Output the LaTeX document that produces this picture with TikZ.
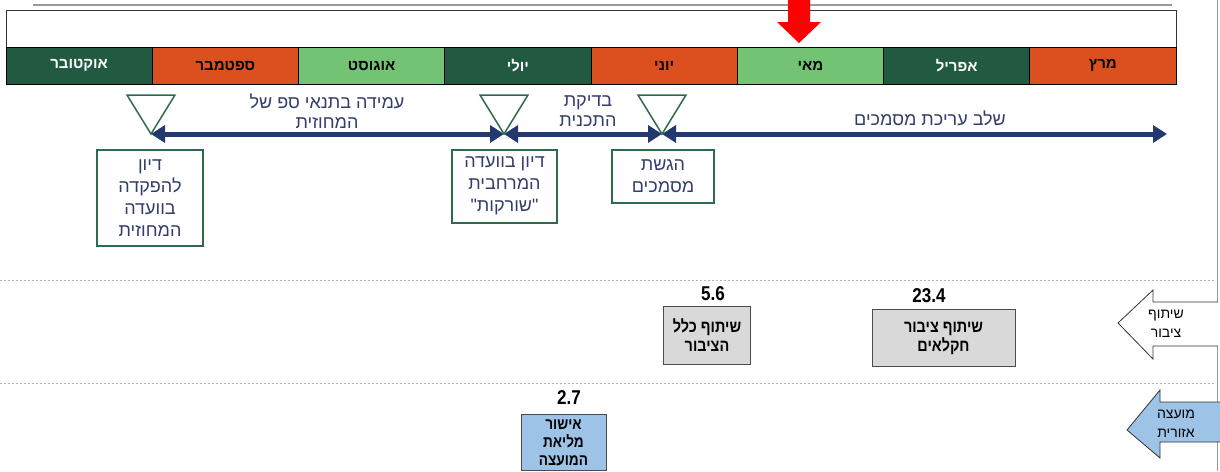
\documentclass[tikz,border=0pt]{standalone}
\usepackage{fontspec}
\usetikzlibrary{arrows.meta}
\newfontfamily\hebfont[Script=Hebrew]{Liberation Sans}
\newfontfamily\narrowfont[Script=Hebrew,FakeStretch=0.85]{Liberation Sans}
\TeXXeTstate=1
\newcommand{\heb}[1]{\beginR #1\endR}
\definecolor{darkgrn}{HTML}{225A41}
\definecolor{orng}{HTML}{DC4F1E}
\definecolor{lightgrn}{HTML}{72C374}
\definecolor{navy}{HTML}{22386F}
\definecolor{boxgrn}{HTML}{2F6B4A}
\definecolor{txtblue}{HTML}{333C6B}
\definecolor{gry}{HTML}{D9D9D9}
\definecolor{lblue}{HTML}{9DC3E6}
\tikzset{
  month/.style={draw=black, line width=0.8pt, minimum width=146.25pt, minimum height=37pt,
    inner sep=0pt, font=\hebfont\bfseries\fontsize{15}{17}\selectfont},
  lbl/.style={align=center, text=txtblue, font=\hebfont\fontsize{18}{20}\selectfont},
  evbox/.style={draw=boxgrn, line width=1.5pt, align=center, anchor=north, text=txtblue,
    inner sep=0pt, font=\hebfont\fontsize{18}{22}\selectfont},
  pbox/.style={draw=black!70, line width=1pt, align=center, anchor=north, inner sep=0pt,
    font=\narrowfont\bfseries\fontsize{17}{19}\selectfont},
  num/.style={font=\narrowfont\bfseries\fontsize{20}{20}\selectfont},
  span/.style={navy, line width=5pt, {Triangle[length=14pt,width=17pt]}-{Triangle[length=14pt,width=17pt]}},
  tri/.style={draw=boxgrn, line width=1.5pt, fill=white},
  sidetxt/.style={align=center, font=\hebfont\fontsize{14}{19}\selectfont}
}
\begin{document}
\begin{tikzpicture}[x=1pt,y=-1pt]
\useasboundingbox (0,0) rectangle (1220,471);
% frame and months
\draw[black!40, line width=1.2pt] (33,5) -- (1172,5);
\draw[black!40, line width=1pt] (1217,0) -- (1217,471);
\draw[black!80, line width=1pt] (6,10) rectangle (1176,84);
\foreach \i/\name/\col/\tc in {0/אוקטובר/darkgrn/white, 1/ספטמבר/orng/black,
    2/אוגוסט/lightgrn/black, 3/יולי/darkgrn/white, 4/יוני/orng/black,
    5/מאי/lightgrn/black, 6/אפריל/darkgrn/white, 7/מרץ/orng/black}
  \node[month, fill=\col, text=\tc] (m\i) at ({79.125+146.25*\i},65.5) {\heb{\name}};
\fill[red] (788,0) -- (810,0) -- (810,22) -- (821,22) -- (799,43) -- (777,22) -- (788,22) -- cycle;
% milestones
\coordinate (t1) at (151,134);
\coordinate (t2) at (504,134);
\coordinate (t3) at (662,134);
\coordinate (tend) at (1167,134);
\draw[span] (t1) -- (t2);
\draw[span] (t2) -- (t3);
\draw[span] (t3) -- (tend);
\foreach \t in {t1,t2,t3}
  \draw[tri] (\t) ++(-24,-39) -- ++(48,0) -- (\t) -- cycle;
\node[lbl] (l1) at (327,111) {\heb{עמידה בתנאי ספ של}\\\heb{המחוזית}};
\node[lbl] (l2) at (588,111) {\heb{בדיקת}\\\heb{התכנית}};
\node[lbl] (l3) at (930,118) {\heb{שלב עריכת מסמכים}};
\node[evbox, minimum width=106pt, minimum height=96pt] (b1) at (150,149)
  {\heb{דיון}\\\heb{להפקדה}\\\heb{בוועדה}\\\heb{המחוזית}};
\node[evbox, minimum width=105pt, minimum height=73pt] (b2) at (504.5,149)
  {\heb{דיון בוועדה}\\\heb{המרחבית}\\\heb{"שורקות"}};
\node[evbox, minimum width=102pt, minimum height=53pt] (b3) at (663,149)
  {\heb{הגשת}\\\heb{מסמכים}};
% lanes
\draw[black!30, dash pattern=on 2pt off 2pt] (0,280) -- (1215,280);
\draw[black!30, dash pattern=on 2pt off 2pt] (0,383) -- (1215,383);
\node[num] (n1) at (713,294) {5.6};
\node[pbox, fill=gry, minimum width=87pt, minimum height=58pt] (p1) at (707,306)
  {\heb{שיתוף כלל}\\\heb{הציבור}};
\node[num] (n2) at (929,296) {23.4};
\node[pbox, fill=gry, minimum width=143pt, minimum height=57pt] (p2) at (943.5,309)
  {\heb{שיתוף ציבור}\\\heb{חקלאים}};
\node[num] (n3) at (569,398) {2.7};
\node[pbox, fill=lblue, minimum width=85pt, minimum height=56pt,
  font=\narrowfont\bfseries\fontsize{16}{18}\selectfont] (p3) at (563.5,414)
  {\heb{אישור}\\\heb{מליאת}\\\heb{המועצה}};
% side arrows
\draw[black!80, line width=0.8pt, fill=white] (1218,302) -- (1153,302) -- (1153,290)
  -- (1118,323) -- (1153,359) -- (1153,346) -- (1218,346);
\node[sidetxt] (s1) at (1166,324) {\heb{שיתוף}\\\heb{ציבור}};
\draw[black!80, line width=0.8pt, fill=lblue] (1220,402) -- (1160,402) -- (1160,390)
  -- (1127,430) -- (1160,458) -- (1160,442) -- (1220,442);
\node[sidetxt] (s2) at (1176,424) {\heb{מועצה}\\\heb{אזורית}};
\end{tikzpicture}
\end{document}
